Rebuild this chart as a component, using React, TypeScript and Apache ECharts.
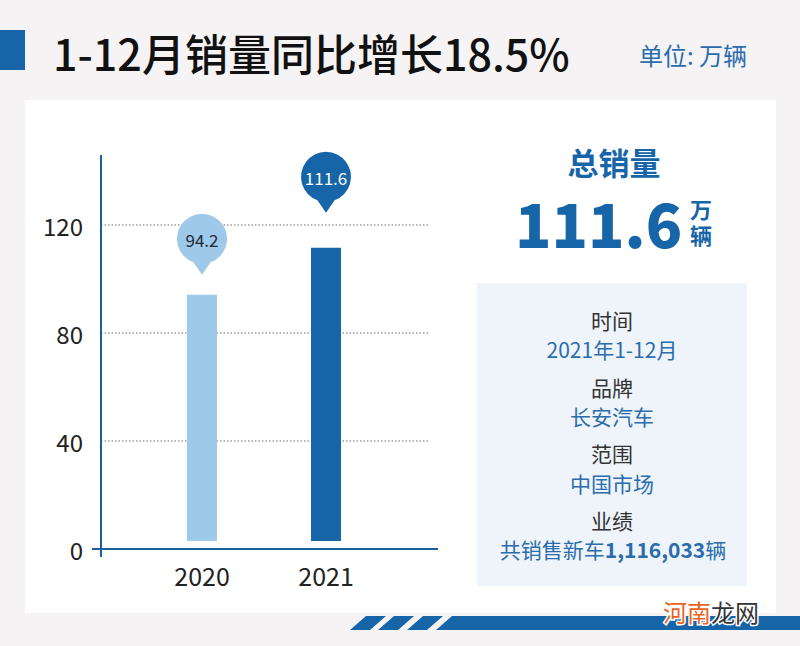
import React, { useEffect, useRef } from "react";
import * as echarts from "echarts";

const categories = ["2020", "2021"];
const sales = [94.2, 111.6];
const yMin = 0;
const yMax = 146;
const yInterval = 40;
const title = "1-12月销量同比增长18.5%";
const unitText = "单位: 万辆";
const totalLabel = "总销量";
const infoLabels = ["时间", "品牌", "范围", "业绩"];
const infoValues = ["2021年1-12月", "长安汽车", "中国市场"];
const performancePrefix = "共销售新车";
const performanceNumber = "1,116,033";
const performanceSuffix = "辆";

const FONT = '"Noto Sans CJK SC", "Noto Sans", sans-serif';
const LIGHT = "#9fc9e9";
const DARK = "#1565a8";
const TEXT_BLUE = "#2a6cad";
const AXIS = "#1d5f9a";

const PIN = "path://M16.45 48.49 A25 25 0 1 1 33.55 48.49 L25 61 Z";

export default function App() {
  const ref = useRef<HTMLDivElement>(null);
  useEffect(() => {
    if (!ref.current) return;
    const chart = echarts.init(ref.current, null, { renderer: "svg" });
    const colors = [LIGHT, DARK];
    const gaps = [20, 35];
    const infoY = [320, 387, 453, 520];
    const valueY = [349, 416, 483];

    const graphics: any[] = [
      { type: "rect", z: -20, shape: { x: 25, y: 100, width: 751, height: 513 }, style: { fill: "#ffffff" } },
      { type: "rect", z: -20, shape: { x: 0, y: 30, width: 25, height: 40 }, style: { fill: DARK } },
      {
        type: "text", z: 10, x: 53, y: 52,
        style: { text: title, fontSize: 43, fontWeight: 500, fill: "#111", fontFamily: FONT, verticalAlign: "middle", align: "left" },
      },
      {
        type: "text", z: 10, x: 639, y: 54,
        style: { text: unitText, fontSize: 24, fill: TEXT_BLUE, fontFamily: FONT, verticalAlign: "middle", align: "left" },
      },
      {
        type: "text", z: 10, x: 614, y: 161,
        style: { text: totalLabel, fontSize: 31, lineHeight: 34, fontWeight: "bold", fill: DARK, fontFamily: FONT, verticalAlign: "middle", align: "center" },
      },
      {
        type: "text", z: 10, x: 515, y: 221,
        style: { text: String(sales[sales.length - 1]), fontSize: 60, lineHeight: 50, fontWeight: 900, fill: DARK, fontFamily: FONT, verticalAlign: "middle", align: "left" },
      },
      {
        type: "text", z: 10, x: 701, y: 208,
        style: { text: "万", fontSize: 22, lineHeight: 24, fontWeight: "bold", fill: DARK, fontFamily: FONT, verticalAlign: "middle", align: "center" },
      },
      {
        type: "text", z: 10, x: 701, y: 234,
        style: { text: "辆", fontSize: 22, lineHeight: 24, fontWeight: "bold", fill: DARK, fontFamily: FONT, verticalAlign: "middle", align: "center" },
      },
      { type: "rect", z: -15, shape: { x: 477, y: 283, width: 270, height: 303 }, style: { fill: "#eef4fa" } },
      // axis lines
      { type: "line", z: 100, shape: { x1: 101, y1: 155, x2: 101, y2: 557 }, style: { stroke: AXIS, lineWidth: 2 } },
      { type: "rect", z: 99, shape: { x: 103, y: 541, width: 330, height: 7 }, style: { fill: "#ffffff" } },
      { type: "line", z: 100, shape: { x1: 92, y1: 549, x2: 438, y2: 549 }, style: { stroke: AXIS, lineWidth: 2 } },
      // bottom stripes
      ...[350, 378, 407].map((bx) => ({
        type: "polygon", z: 10,
        shape: { points: [[bx, 630], [bx + 20, 630], [bx + 36, 616], [bx + 16, 616]] },
        style: { fill: DARK },
      })),
      {
        type: "polygon", z: 10,
        shape: { points: [[436, 630], [800, 630], [800, 616], [452, 616]] },
        style: { fill: DARK },
      },
      {
        type: "text", z: 20, x: 663, y: 611,
        style: {
          text: "{o|河南}{g|龙网}",
          fontFamily: FONT, verticalAlign: "middle", align: "left",
          rich: {
            o: { fontSize: 24, fill: "#e8641e", stroke: "#fff", lineWidth: 3, fontFamily: FONT },
            g: { fontSize: 24, fill: "#333", stroke: "#fff", lineWidth: 3, fontFamily: FONT },
          },
        },
      },
    ];

    infoLabels.forEach((t, i) => {
      graphics.push({
        type: "text", z: 10, x: 612, y: infoY[i],
        style: { text: t, fontSize: 21, fill: "#333", fontFamily: FONT, verticalAlign: "middle", align: "center" },
      });
    });
    infoValues.forEach((t, i) => {
      graphics.push({
        type: "text", z: 10, x: 612, y: valueY[i],
        style: { text: t, fontSize: 21, fill: TEXT_BLUE, fontFamily: FONT, verticalAlign: "middle", align: "center" },
      });
    });
    graphics.push({
      type: "text", z: 10, x: 613, y: 549,
      style: {
        text: `{a|${performancePrefix}}{b|${performanceNumber}}{a|${performanceSuffix}}`,
        fontFamily: FONT, verticalAlign: "middle", align: "center",
        rich: {
          a: { fontSize: 21, fill: TEXT_BLUE, fontFamily: FONT },
          b: { fontSize: 21, fontWeight: "bold", fill: TEXT_BLUE, fontFamily: FONT },
        },
      },
    });

    chart.setOption({
      animation: false,
      backgroundColor: "#f5f3f4",
      textStyle: { fontFamily: FONT },
      grid: [
        { left: 101, top: 155, width: 327, height: 394 },
        { left: 140, top: 155, width: 248, height: 394 },
      ],
      xAxis: [
        { type: "value", gridIndex: 0, show: false, min: 0, max: 1 },
        {
          type: "category", gridIndex: 1, data: categories,
          axisLine: { show: false }, axisTick: { show: false },
          axisLabel: { fontSize: 25, color: "#222", margin: 13, fontFamily: FONT },
        },
      ],
      yAxis: [
        {
          type: "value", gridIndex: 0, min: yMin, max: yMax, interval: yInterval,
          axisLine: { show: false }, axisTick: { show: false },
          axisLabel: { fontSize: 24, color: "#222", margin: 18, showMaxLabel: false, fontFamily: FONT },
          splitLine: { show: true, showMaxLine: false, showMinLine: false, lineStyle: { color: "#9a9a9a", type: [1.5, 2], width: 1.5 } },
        },
        { type: "value", gridIndex: 1, min: yMin, max: yMax, show: false, splitLine: { show: false } },
      ],
      graphic: { elements: graphics },
      series: [
        {
          type: "bar", xAxisIndex: 1, yAxisIndex: 1, barWidth: 30,
          data: sales.map((v, i) => ({ value: v, itemStyle: { color: colors[i] } })),
          markPoint: {
            symbol: PIN,
            symbolSize: [50, 61],
            data: sales.map((v, i) => ({
              coord: [categories[i], v],
              value: v,
              symbolOffset: [0, -(30.5 + gaps[i])],
              itemStyle: { color: colors[i] },
              label: { color: i === 0 ? "#1d2b3a" : "#ffffff" },
            })),
            label: { show: true, fontSize: 17, offset: [0, -5], fontFamily: FONT, formatter: "{c}" },
          },
        },
      ],
    });
    return () => chart.dispose();
  }, []);
  return <div ref={ref} style={{ position: "absolute", left: 0, top: 0, width: 800, height: 646 }} />;
}
